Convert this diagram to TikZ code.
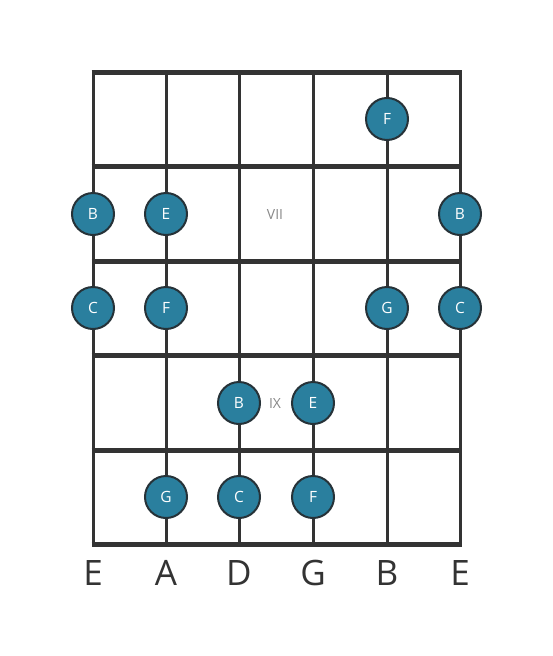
\documentclass[tikz,border=0pt]{standalone}
\usepackage{fontspec}
\setmainfont{Open Sans}
\definecolor{linedark}{RGB}{51,51,51}
\definecolor{noteteal}{RGB}{42,127,158}
\definecolor{ringdark}{RGB}{38,50,56}
\definecolor{fretgray}{RGB}{136,136,136}

\begin{document}
\begin{tikzpicture}[x=1pt, y=-1pt,
    fret/.style={draw=linedark, line width=5pt},
    string/.style={draw=linedark, line width=3pt},
    note/.style={circle, draw=ringdark, line width=2pt, fill=noteteal, minimum size=42pt, inner sep=0pt, text=white, font=\fontsize{15.5}{15.5}\selectfont},
    fretlabel/.style={text=fretgray, font=\fontsize{14}{14}\selectfont},
    stringname/.style={text=linedark, font=\fontsize{35}{35}\selectfont}]
    \useasboundingbox (0,0) rectangle (553,656);

    % strings
    \foreach \s/\x in {1/93, 2/166, 3/239, 4/313, 5/387, 6/460} {
        \coordinate (top\s) at (\x,72);
        \coordinate (bot\s) at (\x,544);
        \draw[string] (top\s) -- (bot\s);
    }

    % frets
    \foreach \f/\y in {0/72, 1/166, 2/261, 3/355, 4/450, 5/544} {
        \coordinate (fretL\f) at (91.5,\y);
        \coordinate (fretR\f) at (461.5,\y);
        \draw[fret] (fretL\f) -- (fretR\f);
    }

    % fret numbers
    \node[fretlabel] (vii) at (275,214) {VII};
    \node[fretlabel] (ix) at (275,403) {IX};

    % notes
    \node[note] (f6) at (387,119) {F};
    \node[note] (b7a) at (93,214) {B};
    \node[note] (e7) at (166,214) {E};
    \node[note] (b7b) at (460,214) {B};
    \node[note] (c8a) at (93,308) {C};
    \node[note] (f8) at (166,308) {F};
    \node[note] (g8) at (387,308) {G};
    \node[note] (c8b) at (460,308) {C};
    \node[note] (b9) at (239,403) {B};
    \node[note] (e9) at (313,403) {E};
    \node[note] (g10) at (166,497) {G};
    \node[note] (c10) at (239,497) {C};
    \node[note] (f10) at (313,497) {F};

    % string names
    \node[stringname] (nameE) at (93,573) {E};
    \node[stringname] (nameA) at (166,573) {A};
    \node[stringname] (nameD) at (239,573) {D};
    \node[stringname] (nameG) at (313,573) {G};
    \node[stringname] (nameB) at (387,573) {B};
    \node[stringname] (namee) at (460,573) {E};
\end{tikzpicture}
\end{document}
